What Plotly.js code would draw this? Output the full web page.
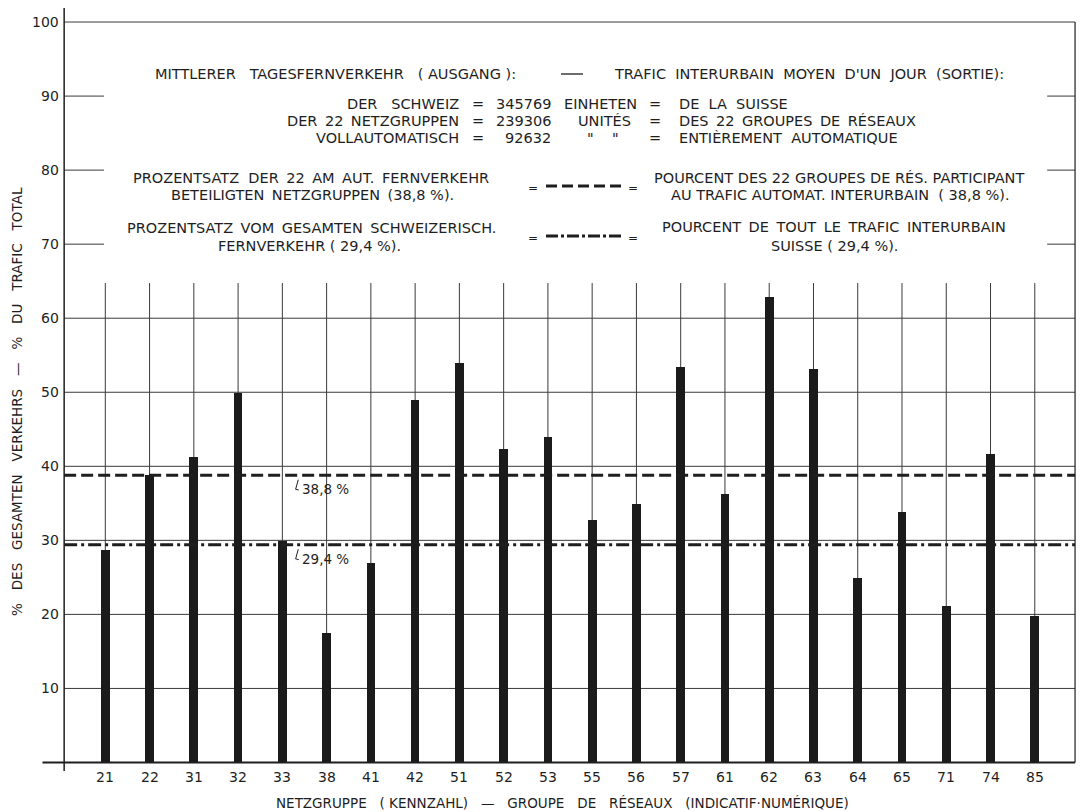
<!DOCTYPE html>
<html><head><meta charset="utf-8">
<script src="https://cdn.plot.ly/plotly-3.0.1.min.js"></script>
<style>html,body{margin:0;padding:0;background:#fff}#chart{width:1082px;height:812px}</style>
</head><body><div id="chart"></div>
<script>
// ---- data ----
const groups = ['21','22','31','32','33','38','41','42','51','52','53','55','56','57','61','62','63','64','65','71','74','85'];
const shares = [28.7,38.8,41.3,49.9,29.9,17.5,27.0,48.9,53.9,42.3,43.9,32.7,34.9,53.4,36.3,62.8,53.2,24.9,33.8,21.1,41.7,19.8];
const avgAutomatic = 38.8;   // % of the 22 groups participating in automatic traffic
const avgSwiss = 29.4;       // % of the total Swiss long-distance traffic
const yTickValues = [10,20,30,40,50,60,70,80,90,100];
const fullGridValues = [10,20,30,40,50,60,100];
const stubGridValues = [70,80,90];
const totalSwiss = '345769';
const total22 = '239306';
const totalAuto = '92632';

// ---- layout constants ----
const W = 1082, H = 812, M = {l:41, r:5, t:7, b:41};
const X_RANGE = [-1.453, 21.954], Y_RANGE = [-1.15, 102.03];
const AX_L = -0.93, AX_R = 21.91, AX_TOP = 101.9, ZERO_LEFT = -1.42, VGRID_TOP = 64.75, BAR_W = 0.197;
const INK = '#1e1e1e', GRID = '#3a3a3a';
const FONT = 'DejaVu Sans, Verdana, sans-serif';
const NB = '\u00a0';
const S1 = NB, S15 = NB + '\u2009', S2 = NB + NB, S3 = NB + NB + NB;
const px = p => (p - M.l) / (W - M.l - M.r);
const py = p => (H - M.b - p) / (H - M.t - M.b);
const fmt = v => v.toFixed(1).replace('.', ',');
const J = (arr, s) => arr.join(s);

const shapes = [];
fullGridValues.forEach(v => shapes.push({type:'line', xref:'x', yref:'y', x0:AX_L, x1:AX_R, y0:v, y1:v, layer:'below', line:{color:GRID, width:1}}));
stubGridValues.forEach(v => {
  shapes.push({type:'line', xref:'x', yref:'y', x0:AX_L, x1:AX_L+0.9, y0:v, y1:v, layer:'below', line:{color:GRID, width:1}});
  shapes.push({type:'line', xref:'x', yref:'y', x0:AX_R-0.63, x1:AX_R, y0:v, y1:v, layer:'below', line:{color:GRID, width:1}});
});
groups.forEach((g, i) => shapes.push({type:'line', xref:'x', yref:'y', x0:i, x1:i, y0:0, y1:VGRID_TOP, layer:'below', line:{color:GRID, width:1}}));
shapes.push({type:'line', xref:'x', yref:'y', x0:AX_L, x1:AX_L, y0:Y_RANGE[0], y1:AX_TOP, layer:'above', line:{color:INK, width:1.5}});
shapes.push({type:'line', xref:'x', yref:'y', x0:AX_R, x1:AX_R, y0:0, y1:100, layer:'above', line:{color:INK, width:1.2}});
shapes.push({type:'line', xref:'x', yref:'y', x0:ZERO_LEFT, x1:AX_R, y0:0, y1:0, layer:'above', line:{color:INK, width:2}});
[avgAutomatic, avgSwiss].forEach(v => {
  shapes.push({type:'path', xref:'x', yref:'y', layer:'above',
    path:`M 4.36 ${v-0.6} L 4.30 ${v-1.9} L 4.37 ${v-2.0}`, line:{color:INK, width:1}});
});
shapes.push({type:'line', xref:'paper', yref:'paper', x0:px(561), x1:px(583), y0:py(74), y1:py(74), line:{color:INK, width:1.3}});
shapes.push({type:'line', xref:'paper', yref:'paper', x0:px(546), x1:px(621), y0:py(186), y1:py(186), line:{color:INK, width:3, dash:'11px,5px'}});
shapes.push({type:'line', xref:'paper', yref:'paper', x0:px(546), x1:px(624), y0:py(236), y1:py(236), line:{color:INK, width:3, dash:'12px,3px,3px,3px'}});

const ann = [];
const T = (text, x, y, xanchor, size, opts) => ann.push(Object.assign({
  xref:'paper', yref:'paper', x:px(x), y:py(y), text:text, showarrow:false,
  xanchor:xanchor, yanchor:'middle', font:{family:FONT, size:size||14.5, color:INK}}, opts||{}));

// y tick labels
yTickValues.forEach(v => ann.push({xref:'x', yref:'y', x:AX_L, y:v, xanchor:'right', yanchor:'middle', xshift:-3,
  text:String(v), showarrow:false, font:{family:FONT, size:14, color:INK}}));
// x tick labels
groups.forEach((g, i) => ann.push({xref:'x', yref:'paper', x:i, y:py(777), xanchor:'center', yanchor:'middle',
  text:g, showarrow:false, font:{family:FONT, size:14, color:INK}}));

// axis titles
T(J(['%','DES','GESAMTEN','VERKEHRS','—','%','DU','TRAFIC','TOTAL'], S3), 17, 402, 'center', 13.5, {textangle:-90});
T(J(['NETZGRUPPE','('+S1+'KENNZAHL)','—','GROUPE','DE','RÉSEAUX','(INDICATIF·NUMÉRIQUE)'], S3), 562, 803, 'center', 13.5);

// header
T(J(['MITTLERER','TAGESFERNVERKEHR','('+S1+'AUSGANG'+S1+'):'], S3), 153, 74, 'left');
T(J(['TRAFIC','INTERURBAIN','MOYEN',"D'UN",'JOUR','(SORTIE):'], S2), 612, 74, 'left');
const rowsY = [104, 121, 138];
const deRows = [J(['DER','SCHWEIZ'], S3), J(['DER','22','NETZGRUPPEN'], S15), 'VOLLAUTOMATISCH'];
const numRows = [totalSwiss, total22, totalAuto];
const unitRows = [['EINHETEN', 562], ['UNITÉS', 576], ['"'+S3+S1+'"', 585]];
const frRows = [J(['DE','LA','SUISSE'], S2), J(['DES','22','GROUPES','DE','RÉSEAUX'], S15), J(['ENTIÈREMENT','AUTOMATIQUE'], S2)];
rowsY.forEach((y, k) => {
  T(deRows[k], 461, y, 'right');
  T('=', 478, y, 'center');
  T(numRows[k], 553, y, 'right');
  T(unitRows[k][0], unitRows[k][1], y, 'left');
  T('=', 655, y, 'center');
  T(frRows[k], 677, y, 'left');
});
// legend block
T('PROZENTSATZ'+S2+J(['DER','22','AM','AUT.','FERNVERKEHR'], S15), 311, 178, 'center');
T(J(['BETEILIGTEN','NETZGRUPPEN','('+fmt(avgAutomatic)+S1+'%).'], S15), 312, 195, 'center');
T('=', 533, 188, 'center', 12);
T('=', 633, 188, 'center', 12);
T(J(['POURCENT','DES','22','GROUPES','DE','RÉS.','PARTICIPANT'], S1), 839, 178, 'center');
T(J(['AU','TRAFIC','AUTOMAT.','INTERURBAIN'], S1)+S2+'('+S1+fmt(avgAutomatic)+S1+'%).', 840, 195, 'center');

T(J(['PROZENTSATZ','VOM','GESAMTEN','SCHWEIZERISCH.'], S15), 311, 228, 'center');
T('FERNVERKEHR'+S1+'('+S1+fmt(avgSwiss)+S1+'%).', 309, 246, 'center');
T('=', 533, 238, 'center', 12);
T('=', 633, 238, 'center', 12);
T(J(['POURCENT','DE','TOUT','LE','TRAFIC','INTERURBAIN'], S15), 834, 227, 'center');
T('SUISSE'+S1+'('+S1+fmt(avgSwiss)+S1+'%).', 834, 246, 'center');

// average labels
[avgAutomatic, avgSwiss].forEach(v => ann.push({xref:'x', yref:'y', x:4.39, y:v-1.9, xanchor:'left', yanchor:'middle',
  text:fmt(v)+NB+'%', showarrow:false, font:{family:FONT, size:13.5, color:INK}}));

const idx = groups.map((g, i) => i);
const traces = [
  {type:'bar', x:idx, y:shares, width:BAR_W, marker:{color:'#1b1b1b', line:{width:0}}, hoverinfo:'skip', showlegend:false},
  {type:'scatter', mode:'lines', x:[AX_L, AX_R], y:[avgAutomatic, avgAutomatic], line:{color:INK, width:3, dash:'12px,5px'}, hoverinfo:'skip', showlegend:false},
  {type:'scatter', mode:'lines', x:[AX_L, AX_R], y:[avgSwiss, avgSwiss], line:{color:INK, width:3, dash:'13px,4px,3px,4px'}, hoverinfo:'skip', showlegend:false}
];

const layout = {
  width:W, height:H, margin:M, paper_bgcolor:'#ffffff', plot_bgcolor:'#ffffff',
  xaxis:{range:X_RANGE, showgrid:false, zeroline:false, showline:false, showticklabels:false, ticks:'', fixedrange:true},
  yaxis:{range:Y_RANGE, showgrid:false, zeroline:false, showline:false, showticklabels:false, ticks:'', fixedrange:true},
  shapes:shapes, annotations:ann, showlegend:false, bargap:0
};
Plotly.newPlot('chart', traces, layout, {staticPlot:true, displayModeBar:false});
</script></body></html>
